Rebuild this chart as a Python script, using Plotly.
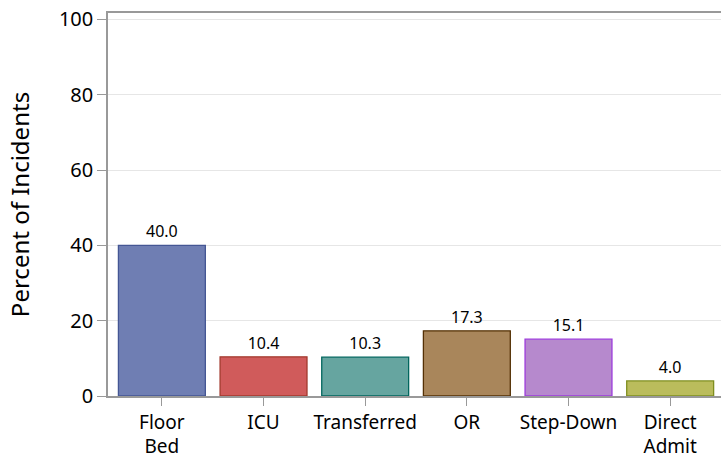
import plotly.graph_objects as go

categories = ["Floor<br>Bed", "ICU", "Transferred", "OR", "Step-Down", "Direct<br>Admit"]
values = [40.0, 10.4, 10.3, 17.3, 15.1, 4.0]
fill_colors = ["#6F7EB3", "#D05B5B", "#66A5A0", "#A9865B", "#B689CD", "#BABC5C"]
line_colors = ["#445694", "#A23A2E", "#01665E", "#543005", "#9D3CDB", "#7F8E1F"]
y_ticks = [0, 20, 40, 60, 80, 100]

FONT = "Noto Sans"

fig = go.Figure(go.Bar(
    x=categories, y=values,
    marker=dict(color=fill_colors, line=dict(color=line_colors, width=1.3)),
    width=0.855,
    text=[f"{v:.1f}" for v in values],
    textposition="outside",
    textfont=dict(family=FONT, size=16, color="#000000"),
    cliponaxis=False,
    hoverinfo="skip",
))

fig.update_layout(
    width=721, height=458,
    margin=dict(l=108, r=0, t=13, b=62),
    paper_bgcolor="white", plot_bgcolor="white",
    showlegend=False,
    font=dict(family=FONT, color="#000000"),
)
fig.update_xaxes(
    range=[-0.53, 5.5],
    showline=True, linecolor="#999999", linewidth=1.5, mirror=True,
    ticks="outside", ticklen=8, tickcolor="#999999",
    tickfont=dict(family=FONT, size=19),
    showgrid=False, automargin=False,
)
fig.update_yaxes(
    range=[0, 101.7], tickvals=y_ticks,
    showline=True, linecolor="#999999", linewidth=1.5,
    ticks="outside", ticklen=9, tickcolor="#999999",
    tickfont=dict(family=FONT, size=20),
    showgrid=True, gridcolor="#E6E6E6", gridwidth=1,
    zeroline=False, automargin=False,
    title=dict(text="Percent of Incidents", font=dict(family=FONT, size=24), standoff=23),
)

fig.write_html("out.html", config={"displayModeBar": False},
               post_script="document.body.style.margin='0';")
